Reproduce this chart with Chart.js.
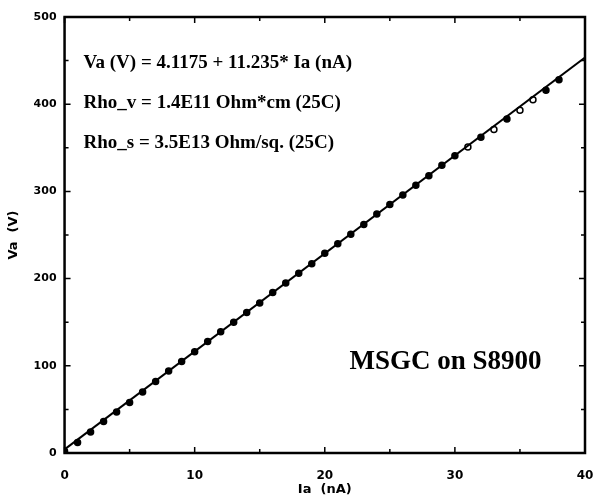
<!DOCTYPE html>
<html>
<head>
<meta charset="utf-8">
<script src="https://cdn.jsdelivr.net/npm/chart.js@4"></script>
<style>
  html, body { margin: 0; padding: 0; background: #fff; }
  #wrap { width: 597px; height: 498px; }
</style>
</head>
<body>
<div id="wrap"><canvas id="vaChart"></canvas></div>
<script>
const iaValues = [0, 1, 2, 3, 4, 5, 6, 7, 8, 9, 10, 11, 12, 13, 14, 15, 16, 17, 18, 19,
                  20, 21, 22, 23, 24, 25, 26, 27, 28, 29, 30, 31, 32, 33, 34, 35, 36, 37, 38];
const vaValues = [2, 12, 24, 36, 47, 58, 70, 82, 94, 105, 116, 128, 139, 150, 161, 172, 184, 195, 206, 217,
                  229, 240, 251, 262, 274, 285, 296, 307, 318, 330, 341, 351, 362, 371, 383, 393, 405, 416, 428];
// points drawn hollow in the original
const hollowIa = [31, 33, 35, 36];

// fitted line end points
const fitIa = [0, 40];
const fitVa = [4.1175, 453.5];

const xTicks = [0, 10, 20, 30, 40];
const yTicks = [0, 100, 200, 300, 400, 500];

const xTitle = "Ia  (nA)";
const notes = [
    "Va (V) = 4.1175 + 11.235* Ia (nA)",
    "Rho_v = 1.4E11 Ohm*cm (25C)",
    "Rho_s = 3.5E13 Ohm/sq. (25C)"
];
const sampleLabel = "MSGC on S8900";

// --- frame, inward ticks and text ---
const framePlugin = {
    id: "frame",
    afterDraw(chart) {
        const ctx = chart.ctx;
        const a = chart.chartArea;
        const xs = chart.scales.x, ys = chart.scales.y;
        ctx.save();
        ctx.strokeStyle = "#000";
        ctx.lineWidth = 2.5;
        ctx.strokeRect(a.left, a.top, a.right - a.left, a.bottom - a.top);

        ctx.lineWidth = 1.5;
        for (let v = 0; v <= 40; v += 5) {
            const px = xs.getPixelForValue(v);
            const len = v % 10 === 0 ? 6 : 4;
            ctx.beginPath();
            ctx.moveTo(px, a.bottom); ctx.lineTo(px, a.bottom - len);
            ctx.moveTo(px, a.top); ctx.lineTo(px, a.top + len);
            ctx.stroke();
        }
        for (let v = 0; v <= 500; v += 50) {
            const py = ys.getPixelForValue(v);
            const len = v % 100 === 0 ? 6 : 4;
            ctx.beginPath();
            ctx.moveTo(a.left, py); ctx.lineTo(a.left + len, py);
            ctx.moveTo(a.right, py); ctx.lineTo(a.right - len, py);
            ctx.stroke();
        }

        ctx.fillStyle = "#000";
        ctx.textBaseline = "middle";
        ctx.textAlign = "center";
        ctx.font = "bold 13px 'DejaVu Sans'";
        ctx.fillText(xTitle, (a.left + a.right) / 2, 490);

        ctx.textAlign = "left";
        ctx.font = "bold 19px 'Liberation Serif'";
        notes.forEach((t, i) => {
            ctx.fillText(t, a.left + 19, a.top + 46 + i * 40);
        });
        ctx.font = "bold 27px 'Liberation Serif'";
        ctx.fillText(sampleLabel, a.left + 285, a.top + 345);
        ctx.restore();
    }
};

const ctx = document.getElementById("vaChart").getContext("2d");
new Chart(ctx, {
    type: "scatter",
    data: {
        datasets: [
            {
                type: "line",
                data: fitIa.map((x, i) => ({ x: x, y: fitVa[i] })),
                borderColor: "#000",
                borderWidth: 2,
                pointRadius: 0,
                fill: false
            },
            {
                data: iaValues.map((x, i) => ({ x: x, y: vaValues[i] })),
                pointStyle: "circle",
                pointRadius: 3,
                pointBorderWidth: 1.5,
                pointBorderColor: "#000",
                pointBackgroundColor: iaValues.map(x => hollowIa.includes(x) ? "#fff" : "#000")
            }
        ]
    },
    options: {
        responsive: true,
        maintainAspectRatio: false,
        animation: false,
        layout: { padding: { top: 17, right: 0, bottom: 17, left: 6 } },
        plugins: { legend: { display: false }, tooltip: { enabled: false } },
        scales: {
            x: {
                type: "linear",
                min: 0, max: 40,
                afterBuildTicks: s => { s.ticks = xTicks.map(v => ({ value: v })); },
                afterFit: s => { s.paddingLeft = 0; s.paddingRight = 12; s.height = 28; },
                grid: { display: false, drawTicks: false },
                border: { display: false },
                ticks: {
                    color: "#000",
                    padding: 16,
                    maxRotation: 0,
                    font: { family: "'DejaVu Sans'", weight: "bold", size: 12 }
                }
            },
            y: {
                type: "linear",
                min: 0, max: 500,
                afterBuildTicks: s => { s.ticks = yTicks.map(v => ({ value: v })); },
                afterFit: s => { s.paddingTop = 0; s.paddingBottom = 0; },
                grid: { display: false, drawTicks: false },
                border: { display: false },
                ticks: {
                    color: "#000",
                    padding: 8,
                    font: { family: "'DejaVu Sans'", weight: "bold", size: 11 }
                },
                title: {
                    display: true,
                    text: "Va  (V)",
                    color: "#000",
                    padding: { top: 0, bottom: 4 },
                    font: { family: "'DejaVu Sans'", weight: "bold", size: 13 }
                }
            }
        }
    },
    plugins: [framePlugin]
});
</script>
</body>
</html>
